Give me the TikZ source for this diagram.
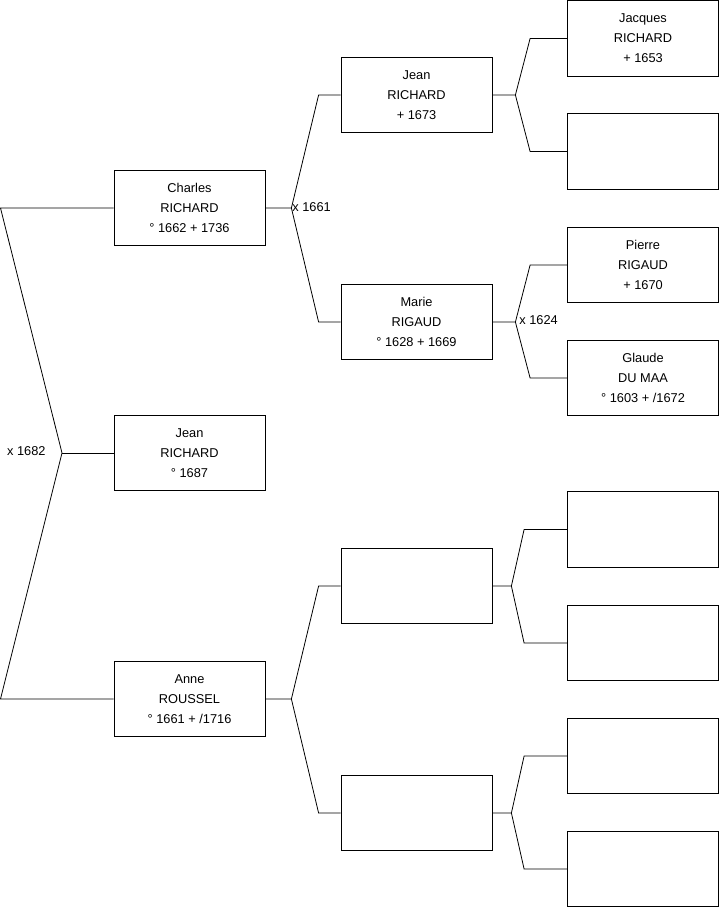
\documentclass[tikz,border=0pt]{standalone}
\usepackage{fontspec}
\setmainfont{Liberation Sans}
\usetikzlibrary{positioning}

\tikzset{
  person/.style={draw,minimum width=151pt,minimum height=75.5pt,inner sep=0pt,align=center,font=\fontsize{12.8}{20}\selectfont},
  marr/.style={inner sep=2pt,font=\fontsize{12.8}{14}\selectfont}
}

\begin{document}
\begin{tikzpicture}[x=1pt,y=-1pt,line width=0.8pt]
\useasboundingbox (0,0) rectangle (719,908);
% persons, numbered as in a Sosa list
\node[person] (s1) at (189.5,453) {Jean\\RICHARD\\° 1687};
\node[person] (s2) at (189.5,208) {Charles\\RICHARD\\° 1662 + 1736};
\node[person] (s3) at (189.5,699) {Anne\\ROUSSEL\\° 1661 + /1716};
\node[person] (s4) at (416.5,95) {Jean\\RICHARD\\+ 1673};
\node[person] (s5) at (416.5,322) {Marie\\RIGAUD\\° 1628 + 1669};
\node[person] (s6) at (416.5,586) {};
\node[person] (s7) at (416.5,813) {};
\node[person] (s8) at (643,38.5) {Jacques\\RICHARD\\+ 1653};
\node[person] (s9) at (643,151.5) {};
\node[person] (s10) at (643,265) {Pierre\\RIGAUD\\+ 1670};
\node[person] (s11) at (643,378) {Glaude\\DU MAA\\° 1603 + /1672};
\node[person] (s12) at (643,529.5) {};
\node[person] (s13) at (643,643) {};
\node[person] (s14) at (643,756) {};
\node[person] (s15) at (643,869) {};
% first fork
\coordinate (r2) at (0.5,208); \coordinate (r1) at (62,453); \coordinate (r3) at (0.5,699);
\draw (s2.west) -- (r2) -- (r1) -- (r3) -- (s3.west);
\draw (r1) -- (s1.west);
% the other forks
\foreach \c/\f/\m/\a/\b in {2/4/5/26/22,3/6/7/26/22,4/8/9/23/37,5/10/11/23/37,6/12/13/19/43,7/14/15/19/43} {
  \draw (s\c.east) -- ++(\a,0) coordinate (k) -- ([xshift=-\b pt]s\f.west) -- (s\f.west);
  \draw (k) -- ([xshift=-\b pt]s\m.west) -- (s\m.west);
}
\node[marr,anchor=east] (x1) at (48,451.5) {x 1682};
\node[marr,anchor=west] (x2) at (290,207) {x 1661};
\node[marr,anchor=west] (x5) at (517,320.5) {x 1624};
\end{tikzpicture}
\end{document}
